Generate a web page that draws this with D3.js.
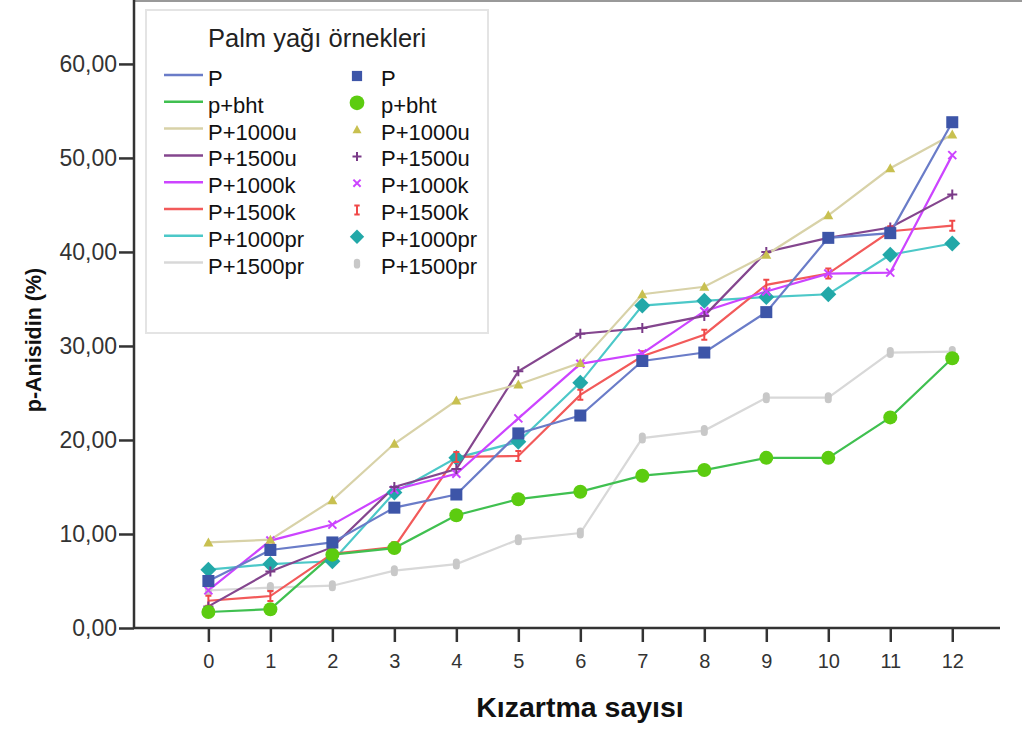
<!DOCTYPE html>
<html><head><meta charset="utf-8">
<script src="https://cdn.jsdelivr.net/npm/d3@7/dist/d3.min.js"></script>
<style>body{margin:0;background:#fff}svg{display:block}</style>
</head><body>
<svg id="c" width="1022" height="733"></svg>
<script>
const xTicks = [0,1,2,3,4,5,6,7,8,9,10,11,12];
const yTicks = [0,10,20,30,40,50,60];
const seriesNames = ["P","p+bht","P+1000u","P+1500u","P+1000k","P+1500k","P+1000pr","P+1500pr"];
const P        = [5.0, 8.3, 9.1,12.8,14.2,20.7,22.6,28.4,29.3,33.6,41.5,42.0,53.8];
const pBht     = [1.7, 2.0, 7.8, 8.5,12.0,13.7,14.5,16.2,16.8,18.1,18.1,22.4,28.7];
const P1000u   = [9.1, 9.4,13.6,19.6,24.2,25.9,28.2,35.5,36.3,39.7,43.9,48.9,52.5];
const P1500u   = [2.3, 6.0, 8.6,15.0,16.9,27.3,31.3,31.9,33.2,40.0,41.5,42.6,46.1];
const P1000k   = [4.0, 9.3,11.0,14.7,16.4,22.3,28.1,29.2,33.7,35.8,37.7,37.8,50.3];
const P1500k   = [2.9, 3.4, 7.9, 8.6,18.2,18.3,24.8,28.9,31.2,36.5,37.7,42.2,42.8];
const P1000pr  = [6.2, 6.8, 7.1,14.4,18.1,19.8,26.1,34.3,34.8,35.2,35.5,39.7,40.9];
const P1500pr  = [4.0, 4.3, 4.5, 6.1, 6.8, 9.4,10.1,20.2,21.0,24.5,24.5,29.3,29.4];
const allValues = [P,pBht,P1000u,P1500u,P1000k,P1500k,P1000pr,P1500pr];

const lineColors = ["#6a7cc8","#40c050","#d8d2a8","#84468e","#cc44ff","#f25a5a","#4cc8c8","#d8d8d8"];
const markColors = ["#3d55a8","#5ccc10","#c8c050","#7a3a88","#cc44ff","#f04848","#22a8a8","#c8c8c8"];
const markTypes  = ["square","circle","triangle","plus","cross","ibeam","diamond","pill"];
const FONT = "Liberation Sans, Arial, sans-serif";

const svg = d3.select("#c");
const x = d3.scaleLinear().domain([-1.2, 12.77]).range([134, 1000]);
const y = d3.scaleLinear().domain([0, 66.8]).range([628, 0]);

// top frame line
svg.append("line").attr("x1",134).attr("x2",1022).attr("y1",1).attr("y2",1)
  .attr("stroke","#999").attr("stroke-width",2);

// axes
const yAxis = svg.append("g").attr("transform","translate(134,0)")
  .call(d3.axisLeft(y).tickValues(yTicks).tickSize(15).tickPadding(2)
    .tickFormat(d => d3.format(".2f")(d).replace(".", ",")).tickSizeOuter(0));
yAxis.select(".domain").attr("d","M0,0V628").attr("stroke","#333").attr("stroke-width",2.5);
yAxis.selectAll(".tick line").attr("stroke","#333").attr("stroke-width",2.5);
yAxis.selectAll(".tick text").attr("fill","#333").attr("font-family",FONT).attr("font-size",23);

const xAxis = svg.append("g").attr("transform","translate(0,628)")
  .call(d3.axisBottom(x).tickValues(xTicks).tickSize(14).tickPadding(12).tickSizeOuter(0));
xAxis.select(".domain").attr("d","M134,0H1000").attr("stroke","#333").attr("stroke-width",2.5);
xAxis.selectAll(".tick line").attr("stroke","#333").attr("stroke-width",2.5);
xAxis.selectAll(".tick text").attr("fill","#333").attr("font-family",FONT).attr("font-size",20);

// axis titles
svg.append("text").attr("transform","translate(41,340) rotate(-90)")
  .attr("text-anchor","middle").attr("font-family",FONT)
  .attr("font-weight","bold").attr("font-size",21.5).attr("fill","#111").text("p-Anisidin (%)");
svg.append("text").attr("x",580).attr("y",717)
  .attr("text-anchor","middle").attr("font-family",FONT)
  .attr("font-weight","bold").attr("font-size",28.5).attr("fill","#111").text("Kızartma sayısı");

// marker drawing
function drawMarker(g, type, cx, cy, col, scale) {
  const s = scale || 1;
  switch(type) {
    case "square": g.append("rect").attr("x",cx-6*s).attr("y",cy-6*s).attr("width",12*s).attr("height",12*s).attr("fill",col); break;
    case "circle": g.append("circle").attr("cx",cx).attr("cy",cy).attr("r",7*s).attr("fill",col); break;
    case "triangle": g.append("path").attr("d",`M${cx},${cy-5*s}L${cx+5*s},${cy+4*s}L${cx-5*s},${cy+4*s}Z`).attr("fill",col); break;
    case "plus": g.append("path").attr("d",`M${cx-5*s},${cy}H${cx+5*s}M${cx},${cy-5*s}V${cy+5*s}`).attr("stroke",col).attr("stroke-width",2); break;
    case "cross": g.append("path").attr("d",`M${cx-4*s},${cy-4*s}L${cx+4*s},${cy+4*s}M${cx+4*s},${cy-4*s}L${cx-4*s},${cy+4*s}`).attr("stroke",col).attr("stroke-width",2); break;
    case "ibeam": g.append("path").attr("d",`M${cx-3*s},${cy-5*s}H${cx+3*s}M${cx},${cy-5*s}V${cy+5*s}M${cx-3*s},${cy+5*s}H${cx+3*s}`).attr("stroke",col).attr("stroke-width",2); break;
    case "diamond": g.append("path").attr("d",`M${cx},${cy-8*s}L${cx+8*s},${cy}L${cx},${cy+8*s}L${cx-8*s},${cy}Z`).attr("fill",col); break;
    case "pill": g.append("rect").attr("x",cx-3.5*s).attr("y",cy-5.5*s).attr("width",7*s).attr("height",11*s).attr("rx",3.5*s).attr("fill",col); break;
  }
}

const line = d3.line().x((d,i) => x(xTicks[i])).y(d => y(d));
const plot = svg.append("g");
const order = [7,6,5,4,3,2,1,0];
order.forEach(k => {
  plot.append("path").datum(allValues[k]).attr("d", line).attr("fill","none")
    .attr("stroke", lineColors[k]).attr("stroke-width", 2.2);
});
order.forEach(k => {
  const g = plot.append("g");
  allValues[k].forEach((v,i) => drawMarker(g, markTypes[k], x(xTicks[i]), y(v), markColors[k]));
});

// legend
const lg = svg.append("g");
lg.append("rect").attr("x",146).attr("y",10).attr("width",342).attr("height",323)
  .attr("fill","#fff").attr("stroke","#e4e4e4").attr("stroke-width",2);
lg.append("text").attr("x",208).attr("y",47).attr("font-family",FONT)
  .attr("font-size",25.5).attr("fill","#222").text("Palm yağı örnekleri");
seriesNames.forEach((n,k) => {
  const yy = 75 + k*26.8;
  lg.append("line").attr("x1",164).attr("x2",203).attr("y1",yy).attr("y2",yy)
    .attr("stroke",lineColors[k]).attr("stroke-width",2.5);
  lg.append("text").attr("x",208).attr("y",yy+11).attr("font-family",FONT)
    .attr("font-size",22).attr("fill","#111").text(n);
  drawMarker(lg, markTypes[k], 357, yy+1, markColors[k], k===1 ? 1.05 : (k===0 ? 0.85 : 0.9));
  lg.append("text").attr("x",381).attr("y",yy+11).attr("font-family",FONT)
    .attr("font-size",22).attr("fill","#111").text(n);
});
</script>
</body></html>
